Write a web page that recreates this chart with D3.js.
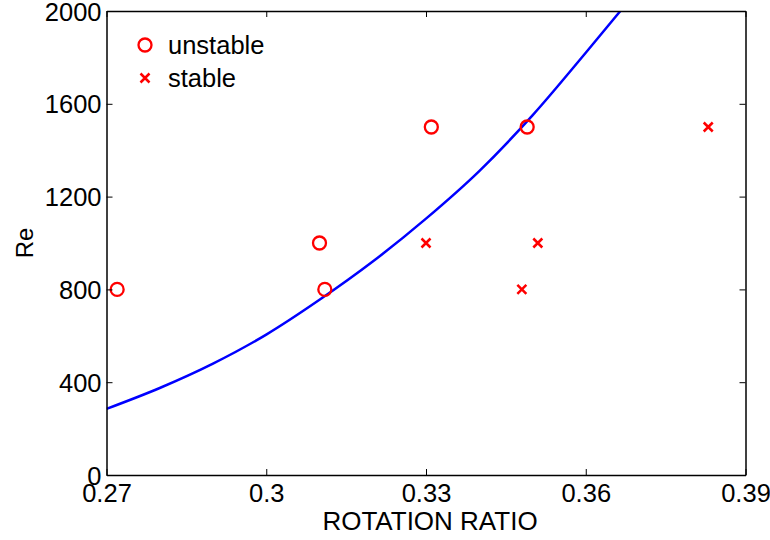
<!DOCTYPE html>
<html>
<head>
<meta charset="utf-8">
<script src="https://cdn.jsdelivr.net/npm/d3@7"></script>
<style>
  body { margin: 0; background: #fff; }
  text { font-family: "Liberation Sans", Arial, sans-serif; fill: #000; }
</style>
</head>
<body>
<div id="chart"></div>
<script>
// unstable runs (circles)
const unstableRatio = [0.272, 0.310, 0.311, 0.331, 0.349];
const unstableRe = [800, 1000, 800, 1500, 1500];
// stable runs (crosses)
const stableRatio = [0.330, 0.351, 0.348, 0.383];
const stableRe = [1000, 1000, 800, 1500];
// stability boundary
const boundaryRatio = [0.27, 0.28, 0.29, 0.30, 0.31, 0.32, 0.33, 0.34, 0.35, 0.36, 0.3665];
const boundaryRe = [285, 375, 480, 605, 755, 920, 1105, 1310, 1550, 1820, 2000];

const xTicks = [0.27, 0.3, 0.33, 0.36, 0.39];
const yTicks = [0, 400, 800, 1200, 1600, 2000];

const width = 770, height = 540;
const margin = { top: 11, right: 24.5, bottom: 65, left: 106.5 };
const innerW = width - margin.left - margin.right;
const innerH = height - margin.top - margin.bottom;
const fontSize = '25.5px';

const svg = d3.select('#chart').append('svg').attr('width', width).attr('height', height);
const g = svg.append('g').attr('transform', `translate(${margin.left},${margin.top})`);

const x = d3.scaleLinear().domain([0.27, 0.39]).range([0, innerW]);
const y = d3.scaleLinear().domain([0, 2000]).range([innerH, 0]);

g.append('clipPath').attr('id', 'clip')
  .append('rect').attr('width', innerW).attr('height', innerH);

// boundary curve
const curveData = boundaryRatio.map((r, i) => ({ r, re: boundaryRe[i] }));
g.append('path')
  .datum(curveData)
  .attr('clip-path', 'url(#clip)')
  .attr('fill', 'none')
  .attr('stroke', '#0000ff')
  .attr('stroke-width', 2.5)
  .attr('d', d3.line().x((d) => x(d.r)).y((d) => y(d.re)).curve(d3.curveMonotoneX));

// unstable circles
g.selectAll('circle.unstable')
  .data(unstableRatio.map((r, i) => ({ r, re: unstableRe[i] })))
  .enter()
  .append('circle')
  .attr('class', 'unstable')
  .attr('cx', (d) => x(d.r))
  .attr('cy', (d) => y(d.re))
  .attr('r', 6.5)
  .attr('fill', 'none')
  .attr('stroke', '#ff0000')
  .attr('stroke-width', 2.3);

// stable crosses
const cross = (sel, s) => sel.append('path')
  .attr('d', `M${-s},${-s}L${s},${s}M${-s},${s}L${s},${-s}`)
  .attr('stroke', '#ff0000')
  .attr('stroke-width', 2.5)
  .attr('fill', 'none');

g.selectAll('g.stable')
  .data(stableRatio.map((r, i) => ({ r, re: stableRe[i] })))
  .enter()
  .append('g')
  .attr('class', 'stable')
  .attr('transform', (d) => `translate(${x(d.r)},${y(d.re)})`)
  .call(cross, 4.5);

// axes (MATLAB style: inward ticks on all four sides)
const tickLen = 6;
const xAxis = g.append('g').attr('transform', `translate(0,${innerH})`)
  .call(d3.axisBottom(x).tickValues(xTicks).tickFormat(d3.format('')).tickSizeInner(-tickLen).tickSizeOuter(0));
const xTop = g.append('g')
  .call(d3.axisTop(x).tickValues(xTicks).tickFormat('').tickSizeInner(-tickLen).tickSizeOuter(0));
const yAxis = g.append('g')
  .call(d3.axisLeft(y).tickValues(yTicks).tickFormat(d3.format('d')).tickSizeInner(-tickLen).tickSizeOuter(0));
const yRight = g.append('g').attr('transform', `translate(${innerW},0)`)
  .call(d3.axisRight(y).tickValues(yTicks).tickFormat('').tickSizeInner(-tickLen).tickSizeOuter(0));

[xAxis, xTop, yAxis, yRight].forEach((a) => {
  a.select('.domain').attr('stroke', '#000').attr('stroke-width', 1.5);
  a.selectAll('.tick line').attr('stroke', '#000').attr('stroke-width', 1);
  a.selectAll('text').style('font-size', fontSize).attr('fill', '#000')
    .style('font-family', '"Liberation Sans", Arial, sans-serif');
});
xAxis.selectAll('text').attr('y', 27).attr('dy', null);
yAxis.selectAll('text').attr('x', -5).attr('dy', '0.36em');

// axis labels
svg.append('text')
  .attr('x', margin.left + innerW / 2 + 4)
  .attr('y', 530)
  .attr('text-anchor', 'middle')
  .style('font-size', '26px')
  .text('ROTATION RATIO');

svg.append('text')
  .attr('transform', `translate(33,${margin.top + innerH / 2}) rotate(-90)`)
  .attr('text-anchor', 'middle')
  .style('font-size', '24px')
  .text('Re');

// legend
const legend = svg.append('g').attr('transform', 'translate(145,45)');
legend.append('circle').attr('r', 6.5).attr('fill', 'none').attr('stroke', '#ff0000').attr('stroke-width', 2.3);
legend.append('text').attr('x', 23).attr('y', 9).style('font-size', fontSize).text('unstable');
const leg2 = legend.append('g').attr('transform', 'translate(0,33)');
leg2.call(cross, 4.5);
leg2.append('text').attr('x', 23).attr('y', 9).style('font-size', fontSize).text('stable');
</script>
</body>
</html>
